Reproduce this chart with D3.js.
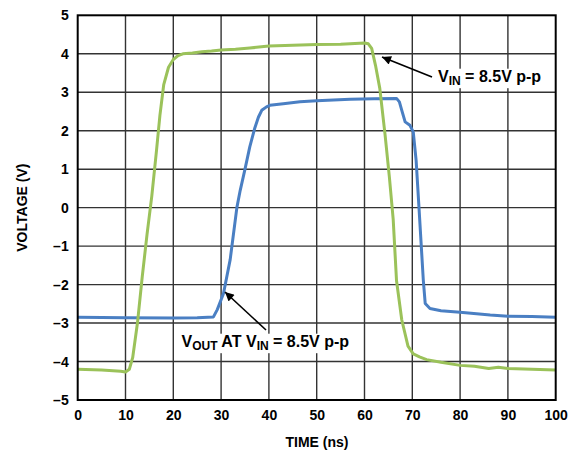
<!DOCTYPE html>
<html><head><meta charset="utf-8">
<script src="https://cdn.jsdelivr.net/npm/d3@7"></script>
<style>body{margin:0;background:#fff}svg{display:block}text{font-family:"Liberation Sans",Arial,sans-serif;font-weight:bold}</style>
</head><body><svg id="c" width="583" height="455"></svg>
<script>
const xTicks = [0,10,20,30,40,50,60,70,80,90,100];
const yTicks = [-5,-4,-3,-2,-1,0,1,2,3,4,5];
const vinT = [0,5,9,10,10.8,11.5,12.5,13.5,14.5,15.5,16.5,17.2,18,19,20,21,22,24,26,28,30,33,36,40,45,50,55,58,60,60.8,61.5,62.3,63.2,64.3,65.2,66,66.7,67.8,69.1,70.2,71.5,73,76,80,83,86,88,90,95,100];
const vinV = [-4.2,-4.22,-4.25,-4.27,-4.2,-3.9,-3.0,-1.8,-0.7,0.3,1.5,2.4,3.2,3.65,3.85,3.95,4.0,4.02,4.05,4.07,4.1,4.12,4.15,4.2,4.22,4.24,4.25,4.27,4.28,4.26,4.14,3.7,3.1,1.9,0.8,-0.3,-1.9,-2.92,-3.6,-3.8,-3.88,-3.95,-4.02,-4.1,-4.12,-4.18,-4.15,-4.18,-4.2,-4.22];
const voutT = [0,10,20,25,28.4,29.2,30.5,31.9,33.3,34,35,36,37,37.8,38.5,39.5,40.2,43,46.5,50,57,62,66.7,67.3,67.8,68.5,69.5,70.2,70.5,70.8,71.4,72.3,72.7,73.7,76,80,86.3,90,95,100];
const voutV = [-2.85,-2.86,-2.87,-2.86,-2.84,-2.65,-2.23,-1.35,0,0.45,1.0,1.58,2.05,2.35,2.53,2.62,2.66,2.7,2.75,2.78,2.82,2.83,2.84,2.75,2.53,2.23,2.14,1.97,1.6,1.23,0.0,-1.88,-2.49,-2.62,-2.68,-2.72,-2.79,-2.82,-2.83,-2.85];

const svg = d3.select("#c");
const L=77.7, R=555.7, T=15.3, B=400;
const x = d3.scaleLinear().domain([0,100]).range([L,R]);
const y = d3.scaleLinear().domain([-5,5]).range([B,T]);
const fmt = d => d<0 ? "\u2013"+Math.abs(d) : String(d);

// grid
svg.append("g").selectAll("line").data(xTicks.slice(1,-1)).join("line")
  .attr("x1",d=>x(d)).attr("x2",d=>x(d)).attr("y1",T).attr("y2",B)
  .attr("stroke","#333").attr("stroke-width",1.4);
svg.append("g").selectAll("line").data(yTicks.slice(1,-1)).join("line")
  .attr("y1",d=>y(d)).attr("y2",d=>y(d)).attr("x1",L).attr("x2",R)
  .attr("stroke","#333").attr("stroke-width",1.4);

// axes labels
const xa = svg.append("g").attr("transform",`translate(0,${B})`).call(d3.axisBottom(x).tickValues(xTicks).tickFormat(fmt).tickSize(0).tickPadding(10));
const ya = svg.append("g").attr("transform",`translate(${L},0)`).call(d3.axisLeft(y).tickValues(yTicks).tickFormat(fmt).tickSize(0).tickPadding(9));
[xa,ya].forEach(a=>{a.select(".domain").remove();a.selectAll("text").attr("font-size",14).attr("font-family","Liberation Sans, Arial").attr("font-weight","bold").attr("fill","#000");});

// labels with white background
function label(g, parts, xx, yy){
  const t = g.append("text").attr("x",xx).attr("y",yy).attr("font-size",16).attr("fill","#000");
  parts.forEach(p=>{
    const s = t.append("tspan").text(p[0]);
    if(p[1]){ s.attr("font-size",12).attr("dy",3.5); }
    else if(p[2]) { s.attr("dy",-3.5); }
  });
  const bb = t.node().getBBox();
  g.insert("rect","text").attr("x",bb.x-4).attr("y",bb.y+1).attr("width",bb.width+8).attr("height",bb.height-1).attr("fill","#fff");
}

// lines
const line = d3.line().x(d=>x(d[0])).y(d=>y(d[1]));
svg.append("path").datum(voutT.map((t,i)=>[t,voutV[i]])).attr("d",line).attr("fill","none").attr("stroke","#4a7fc3").attr("stroke-width",3).attr("stroke-linejoin","round");
svg.append("path").datum(vinT.map((t,i)=>[t,vinV[i]])).attr("d",line).attr("fill","none").attr("stroke","#9bc25a").attr("stroke-width",3).attr("stroke-linejoin","round");

// border
svg.append("rect").attr("x",L).attr("y",T).attr("width",R-L).attr("height",B-T).attr("fill","none").attr("stroke","#000").attr("stroke-width",2);

// annotations
const defs = svg.append("defs");
defs.append("marker").attr("id","ah").attr("viewBox","0 0 10 10").attr("refX",10).attr("refY",5)
  .attr("markerWidth",13).attr("markerHeight",9).attr("markerUnits","userSpaceOnUse").attr("orient","auto")
  .append("path").attr("d","M0,0L10,5L0,10Z").attr("fill","#000");
const ag = svg.append("g");
label(ag, [["V"],["IN",1],[" = 8.5V p-p",0,1]], 438, 81.7);
label(ag, [["V"],["OUT",1],[" AT V",0,1],["IN",1],[" = 8.5V p-p",0,1]], 181.5, 346.7);
ag.append("line").attr("x1",432).attr("y1",77).attr("x2",382).attr("y2",57).attr("stroke","#000").attr("stroke-width",1.6).attr("marker-end","url(#ah)");
ag.append("line").attr("x1",266).attr("y1",330).attr("x2",225).attr("y2",292).attr("stroke","#000").attr("stroke-width",1.6).attr("marker-end","url(#ah)");

// titles
svg.append("text").attr("x",317).attr("y",447).attr("text-anchor","middle").attr("font-size",14).text("TIME (ns)");
svg.append("text").attr("transform",`translate(26.5,${(T+B)/2}) rotate(-90)`).attr("text-anchor","middle").attr("font-size",14).text("VOLTAGE (V)");
</script></body></html>
